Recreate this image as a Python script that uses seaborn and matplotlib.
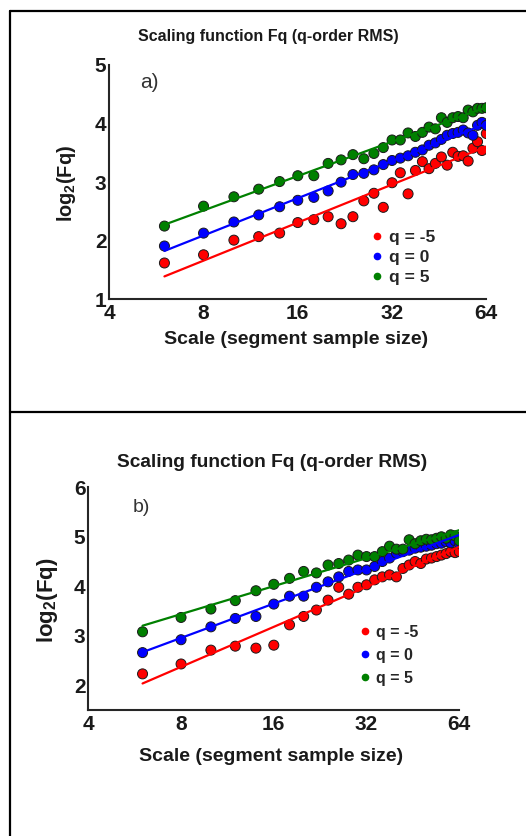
import numpy as np
import pandas as pd
import matplotlib
matplotlib.use('Agg')
import matplotlib.pyplot as plt
import seaborn as sns
from matplotlib.lines import Line2D

# scales (segment sample size)
scales = [6, 8, 10, 12, 14, 16, 18, 20, 22, 24, 26, 28, 30, 32, 34,
          36, 38, 40, 42, 44, 46, 48, 50, 52, 54, 56, 58, 60, 62, 64]

q_labels = ['q = -5', 'q = 0', 'q = 5']
palette = {'q = -5': '#ff0000', 'q = 0': '#0000ff', 'q = 5': '#008000'}

# panel a) log2(Fq)
a_red = [1.62, 1.76, 2.01, 2.07, 2.13, 2.31, 2.36, 2.41, 2.29, 2.41, 2.68, 2.81, 2.57, 2.99, 3.16,
         2.80, 3.20, 3.35, 3.23, 3.32, 3.43, 3.29, 3.51, 3.44, 3.45, 3.36, 3.58, 3.69, 3.54, 3.83]
a_blue = [1.91, 2.13, 2.32, 2.44, 2.58, 2.69, 2.74, 2.85, 3.00, 3.13, 3.15, 3.21, 3.30, 3.37, 3.41,
          3.45, 3.51, 3.55, 3.63, 3.67, 3.73, 3.80, 3.83, 3.85, 3.89, 3.84, 3.80, 3.97, 4.02, 3.97]
a_green = [2.25, 2.59, 2.75, 2.88, 3.01, 3.11, 3.11, 3.32, 3.38, 3.47, 3.40, 3.49, 3.59, 3.72, 3.72,
           3.84, 3.78, 3.85, 3.94, 3.91, 4.10, 4.02, 4.10, 4.12, 4.10, 4.23, 4.20, 4.26, 4.26, 4.27]

# panel b) log2(Fq)
b_red = [2.23, 2.43, 2.71, 2.79, 2.75, 2.81, 3.22, 3.39, 3.52, 3.72, 3.98, 3.84, 3.98, 4.03, 4.13,
         4.19, 4.23, 4.19, 4.36, 4.43, 4.50, 4.46, 4.55, 4.57, 4.60, 4.63, 4.66, 4.70, 4.68, 4.70]
b_blue = [2.66, 2.92, 3.18, 3.35, 3.39, 3.64, 3.80, 3.80, 3.98, 4.09, 4.19, 4.30, 4.33, 4.33, 4.40,
          4.50, 4.57, 4.67, 4.70, 4.73, 4.77, 4.79, 4.81, 4.83, 4.86, 4.87, 4.90, 4.88, 4.92, 4.86]
b_green = [3.08, 3.37, 3.54, 3.71, 3.91, 4.04, 4.16, 4.30, 4.27, 4.43, 4.46, 4.53, 4.63, 4.60, 4.60,
           4.70, 4.81, 4.75, 4.75, 4.94, 4.86, 4.92, 4.95, 4.94, 4.97, 5.00, 4.97, 5.04, 5.02, 4.92]

x_ticks = [4, 8, 16, 32, 64]

sns.set_style('white')
plt.rcParams['font.family'] = ['Liberation Sans', 'DejaVu Sans']
plt.rcParams['font.weight'] = 'bold'
plt.rcParams['mathtext.fontset'] = 'custom'
plt.rcParams['mathtext.rm'] = 'Liberation Sans:bold'
plt.rcParams['mathtext.default'] = 'rm'

W, H = 526, 836
fig = plt.figure(figsize=(W / 100, H / 100), dpi=100)


def px(x, y):
    return x / W, 1 - y / H


def draw_panel(ax, red, blue, green, ylim, yticks, leg_anchor, leg_size, leg_space):
    df = pd.DataFrame({
        'scale': scales * 3,
        'logFq': red + blue + green,
        'q': [q_labels[0]] * len(scales) + [q_labels[1]] * len(scales) + [q_labels[2]] * len(scales),
    })
    sns.scatterplot(data=df, x='scale', y='logFq', hue='q', hue_order=q_labels, palette=palette,
                    s=52, edgecolor='#1a1a1a', linewidth=0.7, legend=False, ax=ax, zorder=2)
    for lab, vals in zip(q_labels, [red, blue, green]):
        sns.regplot(x=np.array(scales), y=np.array(vals), logx=True, scatter=False, ci=None,
                    color=palette[lab], line_kws={'lw': 1.6, 'zorder': 3}, ax=ax)
    ax.set_xscale('log', base=2)
    ax.set_xlim(4, 64)
    ax.set_ylim(*ylim)
    ax.set_xticks(x_ticks)
    ax.set_xticklabels([str(t) for t in x_ticks])
    ax.minorticks_off()
    ax.set_yticks(yticks)
    ax.set_yticklabels([str(t) for t in yticks])
    ax.set_xlabel('')
    ax.set_ylabel('')
    sns.despine(ax=ax)
    for sp in ['left', 'bottom']:
        ax.spines[sp].set_color('#262626')
        ax.spines[sp].set_linewidth(1.5)
    ax.tick_params(axis='both', direction='in', length=4, width=1.2, color='#262626',
                   labelsize=15, labelcolor='#1a1a1a')
    ax.tick_params(axis='x', pad=3.5)
    ax.tick_params(axis='y', pad=2)
    for t in ax.get_xticklabels() + ax.get_yticklabels():
        t.set_fontweight('bold')
    handles = [Line2D([], [], marker='o', ls='', color=palette[l], markersize=4.5) for l in q_labels]
    ax.legend(handles, q_labels, frameon=False, loc='upper left', bbox_to_anchor=leg_anchor,
              handlelength=0.4, handletextpad=0.5, labelspacing=leg_space, borderpad=0,
              borderaxespad=0, prop={'weight': 'bold', 'size': leg_size})


ax_a = fig.add_axes([109.3 / W, 1 - 299.3 / H, 377 / W, 234.3 / H])
draw_panel(ax_a, a_red, a_blue, a_green, (1, 5), [1, 2, 3, 4, 5], (0.70, 0.295), 12.5, 0.26)

ax_b = fig.add_axes([88.3 / W, 1 - 710 / H, 371 / W, 222.7 / H])
draw_panel(ax_b, b_red, b_blue, b_green, (1.5, 6), [2, 3, 4, 5, 6], (0.737, 0.382), 11.5, 0.5)

# titles, axis labels, panel letters
fig.text(*px(268.5, 36), 'Scaling function Fq (q-order RMS)', ha='center', va='center',
         fontsize=11.5, fontweight='bold', color='#1a1a1a')
fig.text(*px(272.3, 462), 'Scaling function Fq (q-order RMS)', ha='center', va='center',
         fontsize=13.8, fontweight='bold', color='#1a1a1a')
fig.text(*px(296, 340), 'Scale (segment sample size)', ha='center', va='center',
         fontsize=14, fontweight='bold', color='#1a1a1a')
fig.text(*px(271.5, 756.5), 'Scale (segment sample size)', ha='center', va='center',
         fontsize=14, fontweight='bold', color='#1a1a1a')
fig.text(*px(66.7, 184), r'log$_2$(Fq)', ha='center', va='center', rotation=90,
         fontsize=14.3, fontweight='bold', color='#1a1a1a')
fig.text(*px(47.5, 600), r'log$_2$(Fq)', ha='center', va='center', rotation=90,
         fontsize=16, fontweight='bold', color='#1a1a1a')
fig.text(*px(149, 82), 'a)', ha='center', va='center', fontsize=15, fontweight='normal', color='#333333')
fig.text(*px(141.7, 507.5), 'b)', ha='center', va='center', fontsize=14, fontweight='normal', color='#333333')

# table cell borders
for (x0, y0), (x1, y1) in [((10, 11), (10, 836)), ((10, 11), (526, 11)), ((10, 412), (526, 412))]:
    fig.add_artist(Line2D([x0 / W, x1 / W], [1 - y0 / H, 1 - y1 / H], color='black', lw=1.6))

fig.savefig('out.png', dpi=100)
